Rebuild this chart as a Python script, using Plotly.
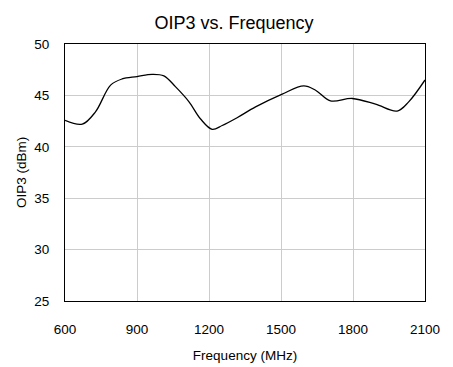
import plotly.graph_objects as go

freq_mhz = [600, 672, 727, 790, 838, 900, 963, 1012, 1060, 1116, 1165, 1213, 1255,
            1317, 1394, 1505, 1595, 1644, 1706, 1797, 1894, 1984, 2032, 2100]
oip3_dbm = [42.57, 42.2, 43.4, 46.0, 46.6, 46.83, 47.05, 46.9, 45.85, 44.4, 42.7, 41.7, 42.07,
            42.83, 43.88, 45.13, 45.92, 45.5, 44.47, 44.7, 44.14, 43.48, 44.37, 46.5]
x_ticks = [600, 900, 1200, 1500, 1800, 2100]
y_ticks = [25, 30, 35, 40, 45, 50]

fig = go.Figure()
fig.add_trace(go.Scatter(x=freq_mhz, y=oip3_dbm, mode="lines",
                         line=dict(color="black", width=1.3, shape="spline", smoothing=1.0),
                         showlegend=False, hoverinfo="skip"))

font = "Liberation Sans, Arial, sans-serif"
fig.update_layout(
    width=453, height=367,
    margin=dict(l=64.5, r=28, t=43.5, b=66, autoexpand=False),
    paper_bgcolor="white", plot_bgcolor="white",
    font=dict(family=font, size=13.5, color="black"),
    title=dict(text="OIP3 vs. Frequency", x=234/453, xanchor="center", xref="container",
               y=1-23/367, yanchor="middle", yref="container",
               font=dict(family=font, size=18, color="black")),
)
fig.update_xaxes(range=[600, 2100], tickvals=x_ticks, ticktext=[str(v) for v in x_ticks],
                 showgrid=True, gridcolor="#cccccc", gridwidth=1, automargin=False,
                 showline=True, linecolor="black", linewidth=1, mirror=True,
                 ticks="", ticklen=0, zeroline=False,
                 tickfont=dict(size=13.5), ticklabelstandoff=16,
                 title=dict(text="Frequency (MHz)", font=dict(size=13.5), standoff=14))
fig.update_yaxes(range=[25, 50], tickvals=y_ticks, ticktext=[str(v) for v in y_ticks],
                 showgrid=True, gridcolor="#cccccc", gridwidth=1, automargin=False,
                 showline=True, linecolor="black", linewidth=1, mirror=True,
                 ticks="", ticklen=0, zeroline=False,
                 tickfont=dict(size=13.5), ticklabelstandoff=12,
                 title=dict(text="OIP3 (dBm)", font=dict(size=13.5), standoff=4))

fig.write_html("out.html", config={"displayModeBar": False},
               post_script="document.body.style.margin='0px';document.body.style.overflow='hidden';")
